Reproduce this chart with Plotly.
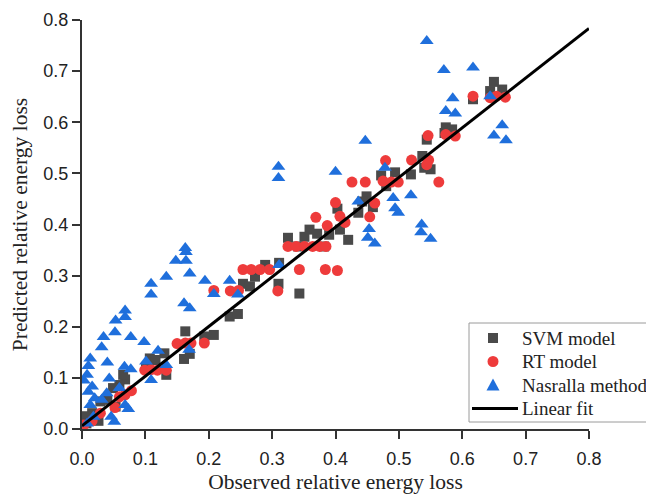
import numpy as np
import plotly.graph_objects as go

# SVM model: observed vs predicted relative energy loss
svm_obs = [0.650, 0.644, 0.663, 0.617, 0.574, 0.584, 0.572, 0.544, 0.537, 0.540,
           0.550, 0.519, 0.494, 0.472, 0.480, 0.449, 0.442, 0.459, 0.436, 0.403,
           0.407, 0.420, 0.390, 0.359, 0.351, 0.371, 0.325, 0.341, 0.382, 0.311,
           0.289, 0.273, 0.254, 0.265, 0.310, 0.343, 0.233, 0.246, 0.208, 0.193,
           0.163, 0.170, 0.161, 0.133, 0.107, 0.116, 0.130, 0.101, 0.068, 0.059,
           0.049, 0.040, 0.029, 0.053, 0.016, 0.007, 0.026, 0.007, 0.065]
svm_pred = [0.679, 0.661, 0.664, 0.645, 0.590, 0.586, 0.579, 0.566, 0.534, 0.511,
            0.508, 0.498, 0.502, 0.496, 0.475, 0.455, 0.445, 0.434, 0.423, 0.431,
            0.390, 0.370, 0.380, 0.390, 0.376, 0.382, 0.374, 0.357, 0.357, 0.325,
            0.321, 0.298, 0.284, 0.279, 0.284, 0.265, 0.220, 0.225, 0.184, 0.181,
            0.191, 0.147, 0.137, 0.106, 0.138, 0.135, 0.148, 0.119, 0.097, 0.086,
            0.080, 0.057, 0.054, 0.044, 0.031, 0.025, 0.016, 0.011, 0.106]

# RT model
rt_obs = [0.617, 0.654, 0.668, 0.644, 0.574, 0.589, 0.546, 0.547, 0.520, 0.563,
          0.544, 0.479, 0.475, 0.488, 0.499, 0.447, 0.426, 0.462, 0.454, 0.400,
          0.407, 0.415, 0.387, 0.369, 0.325, 0.338, 0.351, 0.364, 0.375, 0.385,
          0.343, 0.384, 0.403, 0.254, 0.267, 0.281, 0.296, 0.208, 0.234, 0.247,
          0.309, 0.193, 0.150, 0.163, 0.172, 0.099, 0.109, 0.119, 0.133, 0.078,
          0.068, 0.059, 0.052, 0.029, 0.016, 0.003]
rt_pred = [0.651, 0.651, 0.649, 0.648, 0.576, 0.573, 0.574, 0.526, 0.526, 0.483,
           0.517, 0.525, 0.485, 0.483, 0.483, 0.483, 0.483, 0.442, 0.415, 0.443,
           0.416, 0.404, 0.398, 0.414, 0.357, 0.357, 0.357, 0.357, 0.357, 0.357,
           0.312, 0.312, 0.310, 0.312, 0.312, 0.312, 0.312, 0.271, 0.270, 0.271,
           0.270, 0.168, 0.167, 0.168, 0.168, 0.115, 0.116, 0.115, 0.115, 0.075,
           0.067, 0.063, 0.042, 0.031, 0.016, 0.008]

# Nasralla method
nas_obs = [0.544, 0.571, 0.617, 0.585, 0.574, 0.589, 0.644, 0.663, 0.650, 0.669,
           0.447, 0.310, 0.310, 0.400, 0.478, 0.491, 0.494, 0.499, 0.519, 0.436,
           0.453, 0.451, 0.462, 0.536, 0.535, 0.550, 0.311, 0.163, 0.164, 0.148,
           0.164, 0.170, 0.133, 0.194, 0.233, 0.109, 0.109, 0.208, 0.246, 0.161,
           0.170, 0.068, 0.068, 0.053, 0.052, 0.077, 0.034, 0.031, 0.098, 0.013,
           0.010, 0.008, 0.003, 0.040, 0.043, 0.067, 0.077, 0.101, 0.109, 0.120,
           0.133, 0.169, 0.016, 0.010, 0.020, 0.031, 0.013, 0.039, 0.059, 0.068,
           0.073, 0.046, 0.051, 0.018, 0.008]
nas_pred = [0.759, 0.702, 0.707, 0.647, 0.622, 0.617, 0.651, 0.594, 0.574, 0.565,
            0.564, 0.513, 0.491, 0.503, 0.511, 0.452, 0.432, 0.423, 0.457, 0.445,
            0.391, 0.374, 0.363, 0.400, 0.385, 0.372, 0.321, 0.354, 0.346, 0.329,
            0.329, 0.304, 0.298, 0.290, 0.290, 0.284, 0.263, 0.264, 0.263, 0.246,
            0.236, 0.232, 0.219, 0.212, 0.189, 0.180, 0.180, 0.160, 0.170, 0.138,
            0.123, 0.106, 0.095, 0.130, 0.099, 0.122, 0.117, 0.132, 0.096, 0.153,
            0.125, 0.155, 0.083, 0.073, 0.060, 0.057, 0.047, 0.070, 0.080, 0.047,
            0.039, 0.024, 0.014, 0.024, 0.011]

# Linear fit of predicted against observed
fit_slope = 0.972
fit_intercept = 0.006
fit_x = [0.0, 0.8]

x_ticks = [0.0, 0.1, 0.2, 0.3, 0.4, 0.5, 0.6, 0.7, 0.8]
y_ticks = [0.0, 0.1, 0.2, 0.3, 0.4, 0.5, 0.6, 0.7, 0.8]

legend_labels = ["SVM model", "RT model", "Nasralla method", "Linear fit"]

GRAY = "#4a4a4a"
RED = "#ee3b3b"
BLUE = "#1f6fdc"
SERIF = "Liberation Serif, Times New Roman, serif"
SANS = "Liberation Sans, Arial, sans-serif"

W, H = 646, 494
ML, MR, MT, MB = 82, 57, 20, 65
PW, PH = W - ML - MR, H - MT - MB

fig = go.Figure()
fig.add_trace(go.Scatter(x=svm_obs, y=svm_pred, mode="markers", name=legend_labels[0],
                         marker=dict(symbol="square", size=10, color=GRAY)))
fig.add_trace(go.Scatter(x=rt_obs, y=rt_pred, mode="markers", name=legend_labels[1],
                         marker=dict(symbol="circle", size=11, color=RED)))
fig.add_trace(go.Scatter(x=nas_obs, y=nas_pred, mode="markers", name=legend_labels[2],
                         marker=dict(symbol="triangle-up", size=12, color=BLUE)))
fx = np.array(fit_x)
fig.add_trace(go.Scatter(x=fx, y=fit_slope * fx + fit_intercept, mode="lines",
                         name=legend_labels[3], line=dict(color="black", width=3)))


# Legend box in the lower right corner, drawn in paper units (pixel helpers)
def px_x(p):
    return (p - ML) / PW


def px_y(p):
    return (H - MB - p) / PH


box_left, box_top, box_bottom = 469, 323, 422
row_y = [338, 361.5, 385, 408.5]
sym_x = 493
text_x = 520

shapes = [dict(type="rect", xref="paper", yref="paper",
               x0=px_x(box_left), x1=px_x(W + 20), y0=px_y(box_bottom), y1=px_y(box_top),
               line=dict(color="#9a9a9a", width=1), fillcolor="white", layer="above")]
# square, circle, triangle symbols sized in pixels around their anchors
shapes.append(dict(type="rect", xref="paper", yref="paper", xsizemode="pixel", ysizemode="pixel",
                   xanchor=px_x(sym_x), yanchor=px_y(row_y[0]), x0=-5, x1=5, y0=-5, y1=5,
                   fillcolor=GRAY, line=dict(width=0), layer="above"))
shapes.append(dict(type="circle", xref="paper", yref="paper", xsizemode="pixel", ysizemode="pixel",
                   xanchor=px_x(sym_x), yanchor=px_y(row_y[1]), x0=-5.5, x1=5.5, y0=-5.5, y1=5.5,
                   fillcolor=RED, line=dict(width=0), layer="above"))
shapes.append(dict(type="path", xref="paper", yref="paper", xsizemode="pixel", ysizemode="pixel",
                   xanchor=px_x(sym_x), yanchor=px_y(row_y[2]),
                   path="M -6.5 -5.5 L 6.5 -5.5 L 0 6.5 Z",
                   fillcolor=BLUE, line=dict(width=0), layer="above"))
shapes.append(dict(type="line", xref="paper", yref="paper",
                   x0=px_x(472), x1=px_x(518), y0=px_y(row_y[3]), y1=px_y(row_y[3]),
                   line=dict(color="black", width=3), layer="above"))

annotations = [dict(text=lbl, xref="paper", yref="paper", x=px_x(text_x), y=px_y(ry),
                    xanchor="left", yanchor="middle", showarrow=False,
                    font=dict(family=SERIF, size=19, color="#222222"))
               for lbl, ry in zip(legend_labels, row_y)]

axis_common = dict(
    range=[0, 0.8], tickvals=x_ticks, tickformat=".1f",
    showline=True, linecolor="#333333", linewidth=2,
    ticks="outside", ticklen=8, tickwidth=1.5, tickcolor="#333333",
    showgrid=False, zeroline=False,
    tickfont=dict(family=SANS, size=18, color="#222222"),
    title_font=dict(family=SERIF, size=21.5, color="#222222"),
)

fig.update_layout(
    width=W, height=H,
    margin=dict(l=ML, r=MR, t=MT, b=MB, autoexpand=False),
    plot_bgcolor="white", paper_bgcolor="white",
    xaxis=dict(axis_common, ticklabelstandoff=4,
               title=dict(text="Observed relative energy loss", standoff=14)),
    yaxis=dict(axis_common, tickvals=y_ticks,
               title=dict(text="Predicted relative energy loss", standoff=10)),
    showlegend=False,
    shapes=shapes,
    annotations=annotations,
)

fig.write_html("out.html")
